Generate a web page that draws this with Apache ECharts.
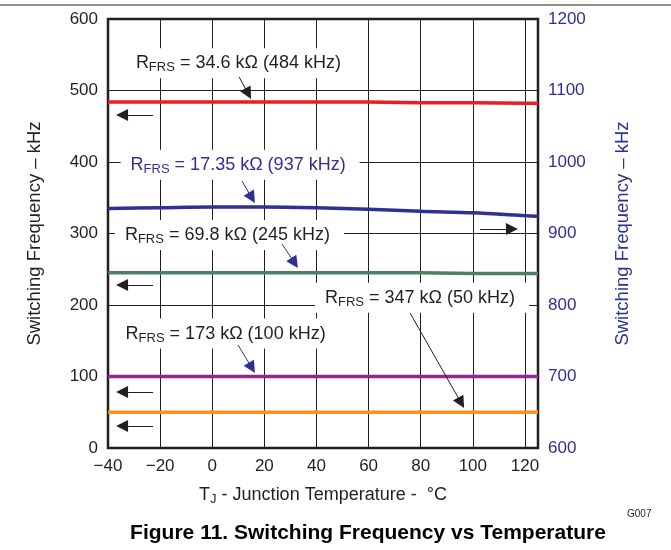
<!DOCTYPE html>
<html>
<head>
<meta charset="utf-8">
<script src="https://cdn.jsdelivr.net/npm/echarts@6/dist/echarts.min.js"></script>
<style>
html,body{margin:0;padding:0;background:#fff;}
#chart{width:671px;height:550px;}
</style>
</head>
<body>
<div id="chart"></div>
<script>
// ---- data ----
const temps     = [-40, -20, 0, 20, 40, 60, 80, 100, 120, 125];
const freq484   = [484, 484, 484, 484, 484, 484, 483, 483, 482, 482];
const freq937   = [935, 936, 937, 937, 936, 934, 931, 929, 925, 924];
const freq245   = [245, 245, 245, 245, 245, 245, 245, 244, 244, 244];
const freq100   = [100, 100, 100, 100, 100, 100, 100, 100, 100, 100];
const freq50    = [50, 50, 50, 50, 50, 50, 50, 50, 50, 50];

const leftTicks  = [0, 100, 200, 300, 400, 500, 600];
const rightTicks = [600, 700, 800, 900, 1000, 1100, 1200];
const xTicks     = [-40, -20, 0, 20, 40, 60, 80, 100, 120];

// annotation texts (positions in data units of x / left axis)
const noteText  = ['= 34.6 kΩ (484 kHz)', '= 17.35 kΩ (937 kHz)', '= 69.8 kΩ (245 kHz)', '= 347 kΩ (50 kHz)', '= 173 kΩ (100 kHz)'];
const noteX     = [10.8, 10.7, 6.6, 80.5, 5.9];
const noteY     = [538, 396, 298, 210, 160];
const noteBlue  = [false, true, false, false, false];

// arrows (data units: x, left axis)
const arrowX1 = [10.3, -22.7, 11.4, 102.7, 26.8, -22.7, 75.9, 9.9, -22.7, -22.7];
const arrowY1 = [518.9, 465.7, 373.4, 306.3, 285.3, 228.0, 188.8, 144.1, 78.3, 30.8];
const arrowX2 = [13.8, -34.6, 15.2, 115.0, 31.6, -34.6, 95.5, 15.2, -34.6, -34.6];
const arrowY2 = [495.5, 465.7, 349.9, 306.3, 258.7, 228.0, 63.2, 112.0, 78.3, 30.8];
const arrowBlue = [false, false, true, false, true, false, false, true, false, false];

const BLACK = '#231f20';
const BLUE = '#2e3192';
const FONT = 'Liberation Sans, Arial, sans-serif';

function pairs(ys){ return temps.map((t,i)=>[t, ys[i]]); }
function fmtMinus(v){ return v < 0 ? '\u2212' + (-v) : String(v); }

const markPoints = noteText.map((t,i)=>{
  const c = noteBlue[i] ? BLUE : BLACK;
  return {
    coord: [noteX[i], noteY[i]],
    symbol: 'circle', symbolSize: 0,
    label: {
      show: true, position: 'inside',
      formatter: '{r|R}{s|FRS}{r| ' + t + '}',
      backgroundColor: '#fff',
      padding: [4, 14, 4, 10],
      rich: {
        r: {fontSize: 18, color: c, fontFamily: FONT},
        s: {fontSize: 13, color: c, fontFamily: FONT, padding: [9, 0, 0, 0]}
      }
    }
  };
});

const markLines = arrowX1.map((x,i)=>{
  const c = arrowBlue[i] ? BLUE : BLACK;
  return [
    {coord: [x, arrowY1[i]], lineStyle: {color: c, width: 1, type: 'solid'}, itemStyle: {color: c}},
    {coord: [arrowX2[i], arrowY2[i]], itemStyle: {color: c}}
  ];
});

const chart = echarts.init(document.getElementById('chart'), null, {renderer: 'canvas'});
chart.setOption({
  animation: false,
  backgroundColor: '#fff',
  textStyle: {fontFamily: FONT},
  title: [
    {text: 'Figure 11. Switching Frequency vs Temperature', left: 363, top: 518, textAlign: 'center',
     textStyle: {fontFamily: FONT, fontSize: 21, fontWeight: 'bold', color: '#000'}},
    {text: 'G007', left: 622, top: 504,
     textStyle: {fontFamily: FONT, fontSize: 10, fontWeight: 'normal', color: BLACK}}
  ],
  graphic: [
    {type: 'line', shape: {x1: 0, y1: 5, x2: 671, y2: 5}, style: {stroke: BLACK, lineWidth: 1.2}}
  ],
  grid: {left: 108, right: 133, top: 19, bottom: 102, show: true, borderColor: BLACK, borderWidth: 2.5, backgroundColor: 'transparent'},
  xAxis: {
    type: 'value', min: xTicks[0], max: 125, interval: 20,
    name: '{a|T}{s|J}{a| - Junction Temperature -  °C}',
    nameLocation: 'middle', nameGap: 36,
    nameTextStyle: {rich: {
      a: {fontSize: 18, color: BLACK, fontFamily: FONT},
      s: {fontSize: 13, color: BLACK, fontFamily: FONT, padding: [9, 0, 0, 0]}
    }},
    axisLine: {show: false}, axisTick: {show: false},
    axisLabel: {fontSize: 17, color: BLACK, margin: 10, showMaxLabel: false, formatter: fmtMinus},
    splitLine: {show: true, lineStyle: {color: BLACK, width: 1}}
  },
  yAxis: [
    {
      type: 'value', min: leftTicks[0], max: leftTicks[leftTicks.length-1], interval: 100, position: 'left',
      name: 'Switching Frequency \u2013 kHz', nameLocation: 'middle', nameGap: 64,
      nameTextStyle: {fontSize: 18.5, color: BLACK, fontFamily: FONT},
      axisLine: {show: false}, axisTick: {show: false},
      axisLabel: {fontSize: 17, color: BLACK, margin: 10, formatter: v => String(v)},
      splitLine: {show: true, lineStyle: {color: BLACK, width: 1}}
    },
    {
      type: 'value', min: rightTicks[0], max: rightTicks[rightTicks.length-1], interval: 100, position: 'right',
      name: 'Switching Frequency \u2013 kHz', nameLocation: 'middle', nameGap: 75,
      nameTextStyle: {fontSize: 18.5, color: BLUE, fontFamily: FONT},
      axisLine: {show: false}, axisTick: {show: false},
      axisLabel: {fontSize: 17, color: BLUE, margin: 10, formatter: v => String(v)},
      splitLine: {show: false}
    }
  ],
  series: [
    {type: 'line', name: '484', data: pairs(freq484), yAxisIndex: 0, showSymbol: false, z: 3,
     lineStyle: {color: '#ed1c24', width: 3.5}, itemStyle: {color: '#ed1c24'},
     markPoint: {silent: true, animation: false, data: markPoints, z: 4},
     markLine: {silent: true, animation: false, symbol: ['none', 'triangle'], symbolSize: 12,
       label: {show: false}, lineStyle: {width: 1, type: 'solid'}, data: markLines}},
    {type: 'line', name: '937', data: pairs(freq937), yAxisIndex: 1, showSymbol: false, smooth: 0.3, z: 3,
     lineStyle: {color: BLUE, width: 3.5}, itemStyle: {color: BLUE}},
    {type: 'line', name: '245', data: pairs(freq245), yAxisIndex: 0, showSymbol: false, z: 3,
     lineStyle: {color: '#4f7f62', width: 3.5}, itemStyle: {color: '#4f7f62'}},
    {type: 'line', name: '100', data: pairs(freq100), yAxisIndex: 0, showSymbol: false, z: 3,
     lineStyle: {color: '#92278f', width: 3.5}, itemStyle: {color: '#92278f'}},
    {type: 'line', name: '50', data: pairs(freq50), yAxisIndex: 0, showSymbol: false, z: 3,
     lineStyle: {color: '#f7941d', width: 3.5}, itemStyle: {color: '#f7941d'}}
  ]
});
</script>
</body>
</html>
